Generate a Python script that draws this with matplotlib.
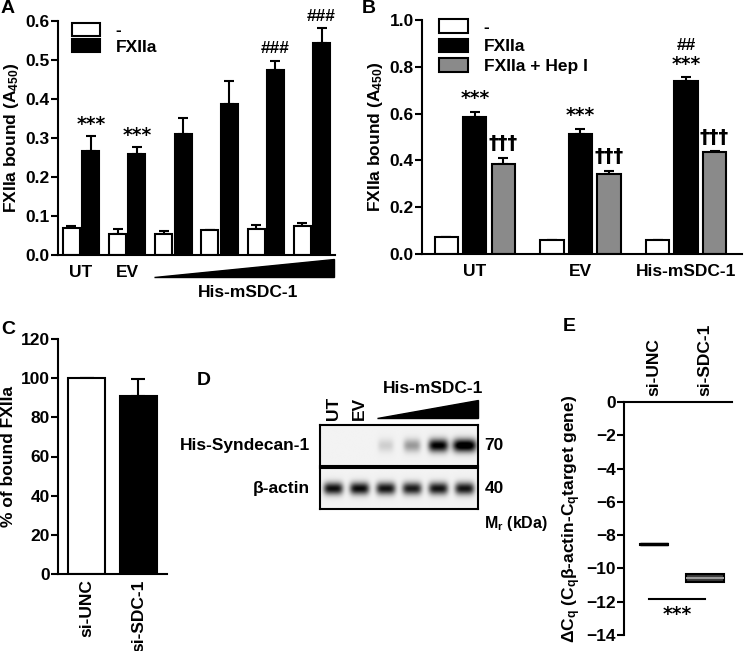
import numpy as np
import matplotlib
matplotlib.use("Agg")
import matplotlib.pyplot as plt
from matplotlib.patches import Patch, Polygon
from matplotlib.transforms import blended_transform_factory

plt.rcParams["font.family"] = ["Liberation Sans", "DejaVu Sans"]
plt.rcParams["font.weight"] = "bold"
plt.rcParams["axes.labelweight"] = "bold"
plt.rcParams["font.size"] = 12
plt.rcParams["mathtext.fontset"] = "custom"
plt.rcParams["mathtext.rm"] = "Liberation Sans:bold"
plt.rcParams["mathtext.it"] = "Liberation Sans:bold"
plt.rcParams["mathtext.bf"] = "Liberation Sans:bold"
plt.rcParams["mathtext.default"] = "rm"

# ---- panel A data ----
a_groups = ["UT", "EV", "", "", "", ""]
a_ctrl = [0.068, 0.054, 0.055, 0.065, 0.067, 0.074]
a_ctrl_err = [0.006, 0.013, 0.007, 0.0, 0.010, 0.009]
a_fxiia = [0.267, 0.259, 0.309, 0.388, 0.474, 0.543]
a_fxiia_err = [0.039, 0.018, 0.043, 0.059, 0.023, 0.038]
a_marks = ["***", "***", "", "", "###", "###"]

# ---- panel B data ----
b_groups = ["UT", "EV", "His-mSDC-1"]
b_ctrl = [0.071, 0.060, 0.060]
b_ctrl_err = [0.003, 0.0, 0.0]
b_fxiia = [0.587, 0.511, 0.739]
b_fxiia_err = [0.021, 0.025, 0.016]
b_hep = [0.385, 0.342, 0.434]
b_hep_err = [0.025, 0.014, 0.005]
b_star = ["***", "***", "***"]
b_hash = ["", "", "##"]
b_dagger = ["\u2020\u2020\u2020", "\u2020\u2020\u2020", "\u2020\u2020\u2020"]

# ---- panel C data ----
c_groups = ["si-UNC", "si-SDC-1"]
c_vals = [100, 91]
c_err = [0, 8.5]
c_colors = ["white", "black"]

# ---- panel D data (relative band intensities) ----
d_lanes = ["UT", "EV", "1", "2", "3", "4"]
d_sdc1 = [0.0, 0.0, 0.14, 0.35, 0.98, 1.1]
d_sdc1_width = [0.5, 0.5, 0.6, 0.65, 0.75, 0.9]
d_actin = [0.9, 0.92, 0.88, 0.85, 0.88, 0.88]

# ---- panel E data (box statistics) ----
e_groups = ["si-UNC", "si-SDC-1"]
e_med = [-8.56, -10.56]
e_q1 = [-8.60, -10.82]
e_q3 = [-8.52, -10.32]

W, H = 745, 651
fig = plt.figure(figsize=(W / 100, H / 100), dpi=100)
STAR = dict(family=["DejaVu Sans"], fontsize=13.5, fontweight="bold")


def rect(l, t, r, b):
    return [l / W, 1 - b / H, (r - l) / W, (b - t) / H]


def style(ax, lw=1.5):
    for s in ["top", "right"]:
        ax.spines[s].set_visible(False)
    for s in ["left", "bottom"]:
        ax.spines[s].set_linewidth(lw)
    ax.tick_params(axis="y", length=5, width=lw, pad=1, labelsize=12.5)
    ax.tick_params(axis="x", length=0, labelsize=12.5)


def up_err(ax, x, y, e, cap=3.5):
    ax.errorbar(x, y, yerr=[np.zeros(len(e)), e], fmt="none", ecolor="black",
                elinewidth=1.5, capsize=cap, capthick=1.5, clip_on=False, zorder=1)


# ================= A =================
axA = fig.add_axes(rect(58, 21, 335, 255))
style(axA)
xa = np.arange(len(a_ctrl))
up_err(axA, xa - 0.21, a_ctrl, a_ctrl_err)
up_err(axA, xa + 0.21, a_fxiia, a_fxiia_err)
axA.bar(xa - 0.21, a_ctrl, 0.37, color="white", edgecolor="black", lw=1.5, zorder=2)
axA.bar(xa + 0.21, a_fxiia, 0.37, color="black", edgecolor="black", lw=1.5, zorder=2)
for i, m in enumerate(a_marks):
    if m == "***":
        axA.text(xa[i] + 0.21, a_fxiia[i] + a_fxiia_err[i] + 0.005, m, ha="center",
                 va="bottom", clip_on=False, **STAR)
    elif m:
        axA.text(xa[i] + 0.21, a_fxiia[i] + a_fxiia_err[i] + 0.012, m, ha="center",
                 va="bottom", fontsize=12.5, clip_on=False)
axA.set_xlim(-0.5, 5.5)
axA.set_ylim(0, 0.6)
axA.set_yticks(np.arange(0, 0.61, 0.1))
axA.set_yticklabels([f"{v:.1f}" for v in np.arange(0, 0.61, 0.1)])
axA.set_xticks(xa[:2])
axA.set_xticklabels(a_groups[:2])
axA.tick_params(axis="x", pad=7)
axA.set_ylabel(r"FXIIa bound (A$_{450}$)", fontsize=12.5, labelpad=3)
tA = blended_transform_factory(axA.transData, axA.transAxes)
axA.add_patch(Polygon([[1.57, -0.094], [5.48, -0.094], [5.48, -0.017]], closed=True,
                      color="black", transform=tA, clip_on=False))
axA.text(3.62, -0.16, "His-mSDC-1", transform=tA, ha="center", va="center", fontsize=12.5)
axA.legend([Patch(fc="white", ec="black", lw=1.5), Patch(fc="black", ec="black", lw=1.5)],
           ["-", "FXIIa"], loc="upper left", bbox_to_anchor=(0.02, 1.03), frameon=False,
           handlelength=1.6, handleheight=0.8, handletextpad=0.9, labelspacing=0.05,
           borderpad=0, fontsize=12.5)

# ================= B =================
axB = fig.add_axes(rect(422, 20, 742, 254))
style(axB)
xb = np.arange(len(b_groups))
up_err(axB, xb - 0.27, b_ctrl, b_ctrl_err)
up_err(axB, xb, b_fxiia, b_fxiia_err)
up_err(axB, xb + 0.27, b_hep, b_hep_err)
axB.bar(xb - 0.27, b_ctrl, 0.22, color="white", edgecolor="black", lw=1.5, zorder=2)
axB.bar(xb, b_fxiia, 0.22, color="black", edgecolor="black", lw=1.5, zorder=2)
axB.bar(xb + 0.27, b_hep, 0.22, color="#8a8a8a", edgecolor="black", lw=1.5, zorder=2)
for i in range(len(b_groups)):
    top = b_fxiia[i] + b_fxiia_err[i]
    axB.text(xb[i], top + 0.015, b_star[i], ha="center", va="bottom", **STAR)
    if b_hash[i]:
        axB.text(xb[i], top + 0.105, b_hash[i], ha="center", va="bottom", fontsize=12.5)
    axB.text(xb[i] + 0.27, b_hep[i] + b_hep_err[i] + 0.02, b_dagger[i], ha="center",
             va="bottom", fontsize=14, family=["DejaVu Sans"])
axB.set_xlim(-0.5, 2.53)
axB.set_ylim(0, 1.0)
axB.set_yticks(np.arange(0, 1.01, 0.2))
axB.set_yticklabels([f"{v:.1f}" for v in np.arange(0, 1.01, 0.2)])
axB.set_xticks(xb)
axB.set_xticklabels(b_groups)
axB.tick_params(axis="x", pad=7)
axB.set_ylabel(r"FXIIa bound (A$_{450}$)", fontsize=12.5, labelpad=3)
axB.legend([Patch(fc="white", ec="black", lw=1.5), Patch(fc="black", ec="black", lw=1.5),
            Patch(fc="#8a8a8a", ec="black", lw=1.5)],
           ["-", "FXIIa", "FXIIa + Hep I"], loc="upper left", bbox_to_anchor=(0.025, 1.04),
           frameon=False, handlelength=1.7, handleheight=0.8, handletextpad=0.9,
           labelspacing=0.22, borderpad=0, fontsize=12.5)

# ================= C =================
axC = fig.add_axes(rect(58, 339, 167, 574))
style(axC)
xc = np.arange(len(c_groups))
up_err(axC, xc, c_vals, c_err, cap=5)
axC.bar(xc, c_vals, 0.7, color=c_colors, edgecolor="black", lw=1.5, zorder=2)
axC.set_xlim(-0.55, 1.55)
axC.set_ylim(0, 120)
axC.set_yticks(np.arange(0, 121, 20))
axC.set_xticks(xc)
axC.set_xticklabels(c_groups, rotation=90)
axC.tick_params(axis="x", pad=4)
axC.set_ylabel("% of bound FXIIa", fontsize=12.5, labelpad=3)


# ================= D (blot) =================
def blot(ax, inten, widths, sy):
    xs = np.linspace(0, 6, 320)
    ys = np.linspace(0, 1, 80)
    X, Y = np.meshgrid(xs, ys)
    img = np.full(X.shape, 0.05)
    for i, v in enumerate(inten):
        cx = i + 0.5
        img += v * np.exp(-((X - cx) / (widths[i] / 2)) ** 4) * np.exp(-((Y - 0.5) / sy) ** 2)
    ax.imshow(np.clip(img, 0, 1), cmap="gray_r", vmin=0, vmax=1.0, extent=[0, 6, 0, 1],
              aspect="auto", interpolation="bilinear")
    ax.set_xticks([])
    ax.set_yticks([])
    for s in ax.spines.values():
        s.set_linewidth(1.5)


axD1 = fig.add_axes(rect(320, 425, 478, 466))
blot(axD1, d_sdc1, d_sdc1_width, 0.16)
axD2 = fig.add_axes(rect(320, 468, 478, 509))
blot(axD2, d_actin, [0.74] * 6, 0.15)
tD = blended_transform_factory(axD1.transData, axD1.transAxes)
axD1.add_patch(Polygon([[2.16, 1.17], [6.0, 1.17], [6.0, 1.61]], closed=True,
                       color="black", transform=tD, clip_on=False))
for i in range(2):
    axD1.text(i + 0.5, 1.12, d_lanes[i], transform=tD, rotation=90, ha="center",
              va="bottom", fontsize=12.5)
axD1.text(4.3, 1.9, "His-mSDC-1", transform=tD, ha="center", va="center", fontsize=12.5)
axD1.text(-0.065, 0.5, "His-Syndecan-1", transform=axD1.transAxes, ha="right",
          va="center", fontsize=12.5)
axD2.text(-0.065, 0.5, "\u03b2-actin", transform=axD2.transAxes, ha="right",
          va="center", fontsize=12.5)
axD1.text(1.04, 0.5, "70", transform=axD1.transAxes, ha="left", va="center", fontsize=12.5)
axD2.text(1.04, 0.5, "40", transform=axD2.transAxes, ha="left", va="center", fontsize=12.5)
axD2.text(1.04, -0.36, r"M$_r$ (kDa)", transform=axD2.transAxes, ha="left", va="center",
          fontsize=11.5)

# ================= E =================
axE = fig.add_axes(rect(624, 402, 732, 635))
for s in ["bottom", "right"]:
    axE.spines[s].set_visible(False)
for s in ["left", "top"]:
    axE.spines[s].set_linewidth(1.5)
stats = [dict(med=e_med[i], q1=e_q1[i], q3=e_q3[i], whislo=e_q1[i], whishi=e_q3[i],
              label=e_groups[i]) for i in range(2)]
bp = axE.bxp(stats, positions=[1, 2], widths=[0.55, 0.75], showfliers=False,
             showcaps=False, patch_artist=True,
             boxprops=dict(facecolor="#3a3a3a", edgecolor="black", linewidth=1.5),
             medianprops=dict(color="#9a9a9a", linewidth=1.5),
             whiskerprops=dict(color="black", linewidth=1.5))
bp["medians"][0].set_color("black")
bp["medians"][0].set_linewidth(2.5)
axE.plot([0.9, 2.0], [-11.85, -11.85], color="black", lw=1.5)
axE.text(1.45, -12.2, "***", ha="center", va="top", **STAR)
axE.set_xlim(0.41, 2.53)
axE.set_ylim(-14, 0)
axE.set_yticks(np.arange(-14, 1, 2))
axE.xaxis.tick_top()
axE.set_xticks([1, 2])
axE.set_xticklabels(e_groups, rotation=90)
axE.tick_params(axis="x", length=0, pad=4, labelsize=12.5)
axE.tick_params(axis="y", length=5, width=1.5, pad=1, labelsize=12.5)
axE.set_ylabel("\u0394C$_q$ (C$_q$\u03b2-actin-C$_q$target gene)", fontsize=12.5, labelpad=2)

# ---- panel letters ----
for letter, (px, py) in {"A": (1, 0), "B": (362, 0), "C": (1, 321), "D": (197, 372),
                         "E": (563, 318)}.items():
    fig.text(px / W, 1 - py / H, letter, ha="left", va="top", fontsize=14)

fig.savefig("out.png", dpi=100)
